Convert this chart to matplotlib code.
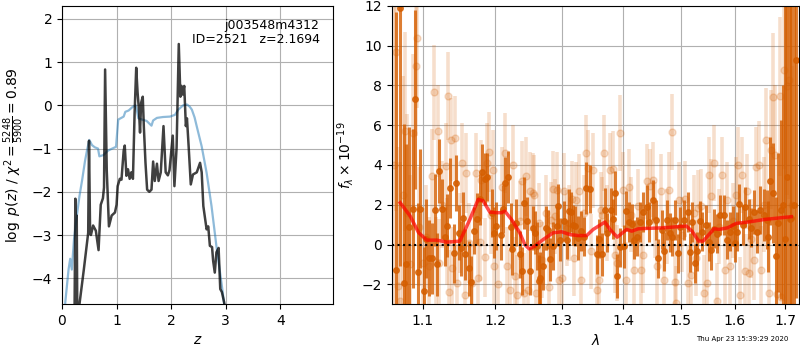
import matplotlib
matplotlib.use('Agg')
import matplotlib.pyplot as plt
from matplotlib.ticker import NullLocator, FixedLocator, FixedFormatter
import numpy as np

# ---------------- left panel: log p(z) ----------------
z_pz = [0.20, 0.23, 0.245, 0.255, 0.27, 0.28, 0.32, 0.40, 0.48, 0.495, 0.515,
        0.53, 0.57, 0.62, 0.67, 0.71, 0.75, 0.77, 0.79, 0.82, 0.86, 0.91, 0.97,
        1.00, 1.02, 1.06, 1.09, 1.13, 1.15, 1.18, 1.21, 1.24, 1.27, 1.30, 1.33,
        1.36, 1.385, 1.41, 1.43, 1.45, 1.48, 1.50, 1.53, 1.56, 1.60, 1.64, 1.67,
        1.70, 1.74, 1.77, 1.81, 1.86, 1.90, 1.94, 1.97, 2.03, 2.06, 2.10, 2.14,
        2.17, 2.19, 2.21, 2.24, 2.27, 2.29, 2.32, 2.36, 2.40, 2.47, 2.53, 2.56,
        2.59, 2.65, 2.68, 2.71, 2.75, 2.77, 2.80, 2.83, 2.87, 2.90, 2.93, 2.97, 3.00]
logp = [-4.8, -4.8, -2.16, -4.8, -2.55, -4.8, -4.6, -3.8, -2.95, -0.82, -2.95,
        -3.0, -2.78, -2.9, -3.35, -2.3, -2.15, -1.9, 0.83, -1.5, -2.8, -2.55, -2.48,
        -2.3, -1.87, -1.7, -1.72, -1.05, -0.93, -1.63, -1.48, -1.7, -1.55, -1.7, -0.2,
        0.87, 0.3, -0.1, -0.63, 0.06, 0.2, -0.5, -1.33, -1.95, -2.0, -1.95, -1.3,
        -1.75, -1.35, -1.75, -1.55, -0.48, -1.55, -1.62, -1.5, -0.7, -1.87, -0.98, 1.42,
        0.2, 0.45, 0.25, 0.45, -0.48, -0.3, -0.93, -1.83, -1.6, -1.55, -1.33, -1.55,
        -2.33, -2.87, -2.8, -3.25, -3.28, -3.6, -3.87, -3.4, -3.3, -4.25, -4.32, -4.55, -4.8]

z_prior = [0.05, 0.06, 0.12, 0.15, 0.18, 0.22, 0.27, 0.32, 0.37, 0.42, 0.46, 0.50,
           0.55, 0.60, 0.66, 0.685, 0.76, 0.84, 0.92, 0.99, 1.03, 1.13, 1.16, 1.22,
           1.30, 1.35, 1.37, 1.40, 1.47, 1.55, 1.64, 1.67, 1.74, 1.85, 1.98, 2.07,
           2.13, 2.22, 2.29, 2.34, 2.38, 2.43, 2.47, 2.56, 2.65, 2.74, 2.83, 2.93, 2.97, 3.00]
logp_prior = [-4.8, -4.56, -3.8, -3.55, -3.8, -3.1, -2.57, -2.1, -1.72, -1.3, -1.03, -0.8,
              -0.92, -0.97, -1.0, -1.18, -1.15, -1.05, -1.0, -0.96, -0.33, -0.26, -0.15, -0.12,
              -0.03, 0.0, -0.1, -0.3, -0.33, -0.36, -0.47, -0.35, -0.29, -0.27, -0.26, -0.22,
              -0.10, 0.0, 0.02, -0.03, -0.10, -0.28, -0.49, -0.95, -1.56, -2.33, -3.26, -4.18, -4.58, -4.8]

# ---------------- right panel: spectrum ----------------
wave_dark = [1.065, 1.070, 1.076, 1.078, 1.082, 1.087, 1.090, 1.094, 1.097, 1.102,
             1.105, 1.108, 1.112, 1.117, 1.119, 1.122, 1.126, 1.130, 1.133, 1.137,
             1.142, 1.145, 1.149, 1.152, 1.155, 1.158, 1.163, 1.166, 1.170, 1.174,
             1.178, 1.182, 1.186, 1.189, 1.195, 1.198, 1.202, 1.208, 1.211, 1.215,
             1.219, 1.223, 1.225, 1.230, 1.236, 1.239, 1.242, 1.247, 1.251, 1.256,
             1.259, 1.262, 1.265, 1.267, 1.271, 1.276, 1.279, 1.282, 1.287, 1.292,
             1.295, 1.298, 1.303, 1.309, 1.312, 1.315, 1.318, 1.321, 1.326, 1.331,
             1.335, 1.339, 1.345, 1.356, 1.360, 1.364, 1.369, 1.372, 1.379, 1.383,
             1.386, 1.390, 1.394, 1.401, 1.405, 1.410, 1.414, 1.418, 1.423, 1.428,
             1.434, 1.440, 1.444, 1.450, 1.456, 1.460, 1.466, 1.470, 1.476, 1.480,
             1.484, 1.490, 1.494, 1.499, 1.506, 1.512, 1.516, 1.520, 1.525, 1.530,
             1.534, 1.538, 1.546, 1.552, 1.556, 1.560, 1.566, 1.573, 1.580, 1.585,
             1.591, 1.596, 1.600, 1.604, 1.609, 1.616, 1.620, 1.627, 1.631, 1.638,
             1.643, 1.650, 1.658, 1.664, 1.666, 1.669, 1.675, 1.681, 1.686, 1.691,
             1.696, 1.700, 1.704, 1.709, 1.713, 1.718, 1.722]
flux_dark = [-1.3, 11.9, -1.95, -0.96, 0.9, 1.8, 7.3, -1.4, 1.8, -2.35,
             0.3, -0.67, -0.7, 1.75, -1.0, 3.7, 1.8, 0.4, 0.95, 2.85,
             -0.45, 3.1, 0.6, -0.2, 1.35, -0.5, -1.2, -1.9, 0.7, 1.27,
             2.27, 3.65, 3.3, 3.4, 1.6, 0.6, 0.92, 0.5, 1.8, 3.1,
             3.4, 0.9, -0.25, 1.1, -0.5, -1.35, 2.1, 1.18, -1.35, 0.84,
             0.6, -0.08, -1.85, -1.68, -1.1, 0.84, 0.75, -0.75, -0.08, 0.93,
             1.95, 0.25, 1.2, 0.25, 1.7, 1.65, 1.0, 0.93, 0.34, 0.67,
             0.4, 2.85, 2.8, -0.5, 0.3, -0.5, 1.75, 0.6, 1.75, 1.3,
             2.6, -1.6, -0.15, -0.1, 1.7, 1.15, 1.05, 0.25, 0.4, 1.15,
             1.65, 1.9, 1.15, 2.25, 1.25, -0.7, 0.75, -0.35, 1.25, 0.6,
             0.4, 1.25, -0.45, 0.9, 1.25, 1.65, -0.4, 1.15, -0.95, -0.35,
             1.2, 0.65, 1.0, 0.15, -0.3, 0.8, 0.55, 1.5, 1.5, 0.25,
             0.65, 0.95, 0.1, 0.65, 2.05, 1.0, 1.9, 1.3, 0.85, 1.65,
             0.65, 1.75, 1.5, 1.25, 0.4, 3.2, 2.6, -0.6, 1.1, 1.75,
             2.0, 0.3, 3.4, 1.3, 1.35, 2.0, 9.3]
err_dark = [13, 13, 8, 6, 5, 4, 4.5, 3.5, 3, 2.2,
            2.0, 1.9, 1.8, 1.8, 1.6, 1.6, 1.5, 1.5, 1.6, 1.5,
            1.5, 1.4, 1.4, 1.4, 1.3, 1.3, 1.4, 1.3, 1.2, 1.3,
            1.3, 1.4, 1.3, 1.2, 1.2, 1.3, 1.2, 1.3, 1.2, 1.3,
            1.3, 1.2, 1.3, 1.2, 1.2, 1.2, 1.3, 1.2, 1.2, 1.1,
            1.1, 1.2, 1.3, 1.3, 1.2, 1.1, 1.0, 1.1, 1.2, 1.0,
            1.1, 1.1, 1.0, 1.0, 1.1, 1.0, 1.0, 1.0, 1.1, 1.0,
            1.0, 1.3, 1.2, 1.0, 1.0, 1.1, 1.1, 1.0, 1.1, 1.0,
            1.1, 1.1, 1.0, 1.1, 1.0, 1.0, 1.0, 1.0, 1.0, 1.0,
            1.0, 1.1, 1.0, 1.0, 1.0, 1.0, 1.0, 1.0, 1.0, 1.0,
            1.0, 1.0, 1.0, 1.0, 1.0, 1.0, 1.0, 1.0, 1.0, 1.0,
            1.0, 1.0, 1.0, 1.0, 1.0, 1.0, 1.0, 1.0, 1.0, 1.0,
            1.0, 1.0, 1.0, 1.0, 1.0, 1.0, 1.0, 1.0, 1.0, 1.1,
            1.1, 1.2, 1.3, 1.5, 1.8, 2.2, 2.5, 3.0, 3.5, 4.5,
            6, 12, 12, 12, 12, 12, 12]

wave_light = [1.063, 1.066, 1.068, 1.071, 1.074, 1.077, 1.080, 1.083, 1.087, 1.091,
              1.093, 1.095, 1.100, 1.104, 1.108, 1.113, 1.115, 1.118, 1.121, 1.122,
              1.126, 1.131, 1.133, 1.134, 1.136, 1.138, 1.139, 1.144, 1.147, 1.150,
              1.153, 1.158, 1.159, 1.163, 1.168, 1.173, 1.176, 1.178, 1.180, 1.185,
              1.188, 1.191, 1.194, 1.197, 1.199, 1.205, 1.210, 1.214, 1.218, 1.222,
              1.226, 1.229, 1.232, 1.236, 1.240, 1.242, 1.245, 1.248, 1.252, 1.256,
              1.258, 1.261, 1.265, 1.270, 1.275, 1.280, 1.284, 1.287, 1.290, 1.293,
              1.296, 1.300, 1.304, 1.308, 1.312, 1.316, 1.320, 1.323, 1.327, 1.330,
              1.335, 1.339, 1.342, 1.346, 1.350, 1.356, 1.360, 1.363, 1.365, 1.368,
              1.373, 1.378, 1.382, 1.386, 1.390, 1.395, 1.399, 1.405, 1.409, 1.413,
              1.418, 1.424, 1.430, 1.434, 1.440, 1.445, 1.450, 1.454, 1.458, 1.464,
              1.470, 1.475, 1.479, 1.485, 1.489, 1.492, 1.497, 1.502, 1.507, 1.513,
              1.518, 1.523, 1.528, 1.532, 1.537, 1.542, 1.547, 1.552, 1.556, 1.560,
              1.566, 1.570, 1.576, 1.581, 1.586, 1.591, 1.597, 1.602, 1.606, 1.610,
              1.615, 1.620, 1.624, 1.627, 1.632, 1.637, 1.642, 1.648, 1.652, 1.657,
              1.662, 1.668, 1.672, 1.675, 1.679, 1.684, 1.689, 1.692, 1.697, 1.703,
              1.708, 1.714]
flux_light = [4.0, 9.7, -2.1, -2.85, 2.5, 5.7, 1.58, -1.0, 5.6, 8.97,
              10.37, 0.9, -0.94, 0.4, -1.1, 3.43, 7.66, -0.9, 5.7, -0.94,
              2.0, 3.93, 0.15, 7.46, -2.37, 5.28, -1.2, 5.36, -1.95, 0.57,
              4.1, -2.54, 3.6, 0.07, -1.95, 3.6, -1.7, 0.15, 3.26, -0.65,
              4.1, 4.65, 1.5, 3.77, -1.1, -2.0, 2.9, 4.6, -1.1, -2.29,
              4.0, -1.6, -2.54, 1.2, 3.2, -2.45, 3.43, -2.3, 2.67, 2.6,
              2.5, -2.45, 1.08, -0.77, 1.58, -2.12, 1.24, 2.8, 1.41, 2.76,
              -1.78, -1.7, 2.7, 0.82, 1.08, 2.3, -0.69, 2.25, 2.67, -1.78,
              1.58, 4.6, 3.85, -0.35, 3.73, -2.3, -1.78, 1.75, 1.5, 4.6,
              1.08, 3.73, 3.8, -0.52, -0.94, 5.6, 2.76, -1.78, 2.9, 1.5,
              -1.28, 1.92, -1.28, -0.52, 3.18, 2.92, 3.26, 1.24, -1.1, 2.67,
              -1.78, 0.9, 2.76, 5.65, -1.87, -2.96, 2.25, 0.5, 2.3, -1.95,
              -1.53, 1.6, -0.69, 1.83, 1.92, -2.45, -1.92, 3.5, 2.42, 4.1,
              -2.85, 0.9, 3.5, -1.28, 2.25, -1.1, 1.2, 2.5, 4.0, -2.54,
              3.5, -1.35, 2.67, -1.45, 0.3, -0.77, 3.9, 4.0, -1.28, 2.0,
              5.28, -2.45, 4.77, 7.43, 4.5, -2.5, 7.46, -2.62, 8.8, 7.97,
              8.3, 2.0]
err_light = [9, 8, 7, 7, 6, 5, 5, 4.5, 4, 3.5,
             3.5, 3, 2.8, 2.6, 2.5, 2.4, 2.4, 2.3, 2.3, 2.2,
             2.2, 2.2, 2.2, 2.2, 2.1, 2.1, 2.1, 2.1, 2.0, 2.0,
             2.0, 2.0, 2.0, 2.0, 2.0, 2.0, 2.0, 2.0, 2.0, 2.0,
             2.0, 2.0, 2.0, 2.0, 2.0, 2.0, 2.0, 2.0, 2.0, 2.0,
             2.0, 2.0, 2.0, 2.0, 2.0, 2.0, 2.0, 2.0, 2.0, 2.0,
             2.0, 2.0, 2.0, 1.9, 1.9, 1.9, 1.9, 1.9, 1.9, 1.9,
             1.9, 1.9, 1.9, 1.9, 1.9, 1.9, 1.9, 1.9, 1.9, 1.9,
             1.9, 1.9, 1.9, 1.9, 1.9, 1.9, 1.9, 1.9, 1.9, 1.9,
             1.9, 1.9, 1.9, 1.9, 1.9, 1.9, 1.9, 1.9, 1.9, 1.9,
             1.9, 1.9, 1.9, 1.9, 1.9, 1.9, 1.9, 1.9, 1.9, 1.9,
             1.9, 1.9, 1.9, 1.9, 1.9, 1.9, 1.9, 1.9, 1.9, 1.9,
             1.9, 1.9, 1.9, 1.9, 1.9, 1.9, 1.9, 1.9, 1.9, 1.9,
             1.9, 1.9, 1.9, 1.9, 1.9, 1.9, 1.9, 1.9, 1.9, 1.9,
             1.9, 1.9, 1.9, 2.0, 2.0, 2.0, 2.0, 2.2, 2.2, 2.4,
             2.6, 2.8, 3.0, 3.2, 3.5, 3.8, 4.0, 4.5, 5, 5.5,
             6, 7]

wave_model = [1.0709, 1.0838, 1.0947, 1.1058, 1.119, 1.1324, 1.1504, 1.1643, 1.176,
              1.183, 1.1925, 1.2021, 1.2094, 1.2142, 1.224, 1.2362, 1.2437, 1.2502,
              1.2587, 1.2714, 1.2868, 1.300, 1.3131, 1.3262, 1.3396, 1.3502, 1.3693,
              1.3775, 1.3897, 1.4055, 1.414, 1.4253, 1.4397, 1.4689, 1.5098, 1.5202,
              1.5325, 1.5406, 1.5609, 1.5705, 1.5866, 1.6028, 1.6256, 1.6588, 1.7127]
flux_model = [2.1, 1.43, 0.6, 0.22, 0.22, 0.12, 0.17, 1.26, 2.27,
              2.2, 1.63, 1.6, 1.6, 1.68, 1.26, 0.59, 0.0, -0.22,
              -0.08, 0.25, 0.59, 0.64, 0.5, 0.45, 0.45, 0.76, 1.13,
              0.76, 0.37, 0.76, 0.67, 0.79, 0.81, 0.84, 0.93, 0.67,
              0.17, 0.17, 0.79, 0.76, 0.84, 1.06, 1.13, 1.26, 1.4]

wave_ticks = [1.1, 1.2, 1.3, 1.4, 1.5, 1.6, 1.7]

g141_color = (0.835, 0.369, 0.0)

fig = plt.figure(figsize=(8, 3.5), dpi=100)
ax1 = fig.add_axes([0.0775, 0.131, 0.339, 0.852])
ax2 = fig.add_axes([0.49, 0.131, 0.509, 0.852])

# p(z)
ax1.plot(z_prior, logp_prior, color='#1f77b4', alpha=0.5, lw=1.6)
ax1.plot(z_pz, logp, color='k', alpha=0.75, lw=1.8)
ax1.set_xlim(0, 4.97)
ax1.set_ylim(-4.6, 2.3)
ax1.set_xticks([0, 1, 2, 3, 4])
ax1.set_yticks([-4, -3, -2, -1, 0, 1, 2])
ax1.grid(True)
ax1.set_xlabel('$z$')
ax1.set_ylabel(r'$\log\ p(z)$ / $\chi^2=\frac{5248}{5900}=0.89$')
ax1.text(0.95, 0.955, 'j003548m4312\nID=2521   z=2.1694', transform=ax1.transAxes,
         ha='right', va='top', fontsize=9, linespacing=1.1)

# spectrum
ax2.errorbar(wave_light, flux_light, yerr=err_light, fmt='o', color=g141_color,
             alpha=0.2, markersize=5, elinewidth=2.6, capsize=0, zorder=1)
ax2.errorbar(wave_dark, flux_dark, yerr=err_dark, fmt='o', color=g141_color,
             alpha=0.8, markersize=4, elinewidth=2.2, capsize=0, zorder=2)
ax2.plot(wave_model, flux_model, color='r', alpha=0.7, lw=2.5, zorder=4)
ax2.axhline(0, color='k', linestyle=':', lw=1.5, zorder=5)

ax2.set_xscale('log')
ax2.set_xlim(1.0604, 1.729)
ax2.set_ylim(-3, 12)
ax2.xaxis.set_major_locator(FixedLocator(wave_ticks))
ax2.xaxis.set_major_formatter(FixedFormatter([f'{w:.1f}' for w in wave_ticks]))
ax2.xaxis.set_minor_locator(NullLocator())
ax2.set_yticks([-2, 0, 2, 4, 6, 8, 10, 12])
ax2.grid(True)
ax2.set_axisbelow(True)
ax2.set_xlabel(r'$\lambda$')
ax2.set_ylabel(r'$f_\lambda\times10^{-19}$')

fig.text(0.985, 0.022, 'Thu Apr 23 15:39:29 2020', ha='right', va='bottom', fontsize=5)

plt.savefig('out.png', dpi=100)
